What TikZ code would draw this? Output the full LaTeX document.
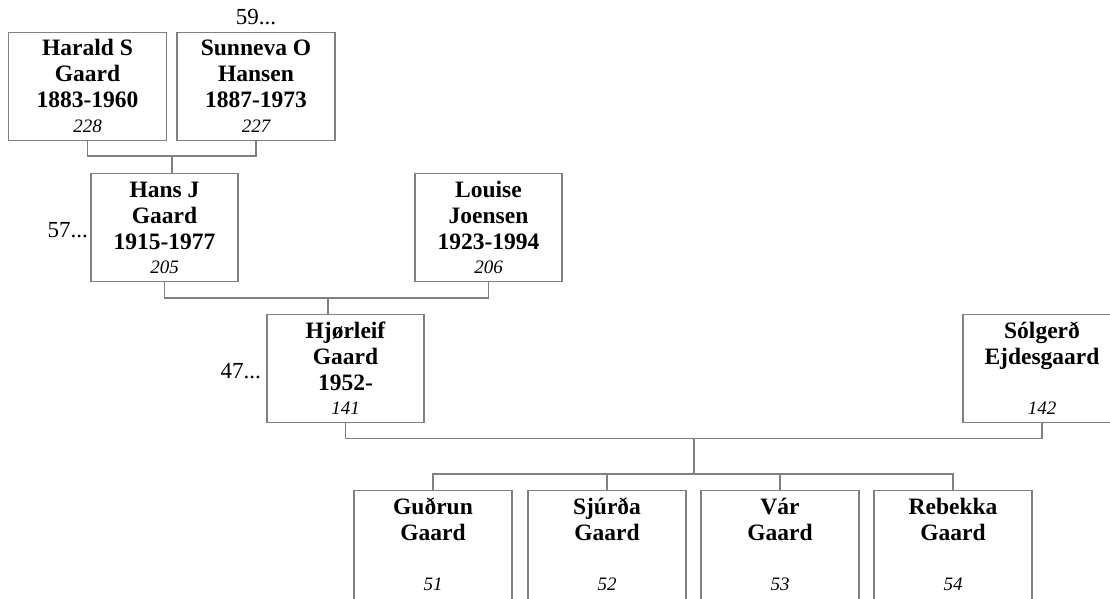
\documentclass[tikz,border=0pt]{standalone}
\usepackage{fontspec}
\setmainfont{Liberation Serif}
\definecolor{linegray}{RGB}{128,128,128}
\tikzset{
  pbox/.style={draw=linegray, line width=1.1pt, rectangle, inner sep=0pt, minimum height=108, fill=white, anchor=north},
  conn/.style={draw=linegray, line width=1.1pt},
  nameline/.style={anchor=base, inner sep=0pt, font=\fontsize{23.5}{26}\selectfont\bfseries},
  numline/.style={anchor=base, inner sep=0pt, font=\fontsize{19}{21}\selectfont\itshape},
  morelbl/.style={inner sep=0pt, font=\fontsize{23}{26}\selectfont}
}
% \person{id}{cx}{top}{width}{line1}{line2}{line3}{number}
\newcommand{\person}[8]{%
  \node[pbox, minimum width=#4] (#1) at (#2,#3) {};
  \node[nameline] (#1-a) at (#2,#3+24) {#5};
  \node[nameline] (#1-b) at (#2,#3+50) {#6};
  \node[nameline] (#1-c) at (#2,#3+76) {#7};
  \node[numline]  (#1-d) at (#2,#3+100) {#8};
}
\begin{document}
\begin{tikzpicture}[x=1pt,y=-1pt]
\useasboundingbox (0,0) rectangle (1110,599);
\clip (0,0) rectangle (1110,599);

% generation 1
\person{harald}{87.5}{32}{158}{Harald S}{Gaard}{1883-1960}{228}
\person{sunneva}{256}{32}{158}{Sunneva O}{Hansen}{1887-1973}{227}
% generation 2
\person{hans}{164.5}{173}{147}{Hans J}{Gaard}{1915-1977}{205}
\person{louise}{488.5}{173}{147}{Louise}{Joensen}{1923-1994}{206}
% generation 3
\person{hjorleif}{345.5}{314}{157}{Hjørleif}{Gaard}{1952-}{141}
\person{solgerd}{1042}{314}{158}{Sólgerð}{Ejdesgaard}{}{142}
% generation 4 (boxes run past the lower edge)
\begin{scope}[pbox/.append style={minimum height=130}]
\person{gudrun}{433}{490}{158}{Guðrun}{Gaard}{}{51}
\person{sjurda}{607}{490}{158}{Sjúrða}{Gaard}{}{52}
\person{var}{780}{490}{158}{Vár}{Gaard}{}{53}
\person{rebekka}{953}{490}{158}{Rebekka}{Gaard}{}{54}
\end{scope}

% more labels
\node[morelbl, anchor=base] (more59) at (256,25) {59...};
\node[morelbl, anchor=base east] (more57) at (88,237) {57...};
\node[morelbl, anchor=base east] (more47) at (261,378) {47...};

% connectors
\coordinate (m1) at (172,156);
\draw[conn] (harald.south) -- (harald.south |- m1) -- (sunneva.south |- m1) -- (sunneva.south);
\draw[conn] (m1) -- (m1 |- hans.north);

\coordinate (m2) at (328,298);
\draw[conn] (hans.south) -- (hans.south |- m2) -- (louise.south |- m2) -- (louise.south);
\draw[conn] (m2) -- (m2 |- hjorleif.north);

\coordinate (m3) at (694,438.5);
\coordinate (c3) at (694,474);
\draw[conn] (hjorleif.south) -- (hjorleif.south |- m3) -- (solgerd.south |- m3) -- (solgerd.south);
\draw[conn] (m3) -- (c3);
\draw[conn] (gudrun.north) -- (gudrun.north |- c3) -- (rebekka.north |- c3) -- (rebekka.north);
\draw[conn] (sjurda.north) -- (sjurda.north |- c3);
\draw[conn] (var.north) -- (var.north |- c3);
\end{tikzpicture}
\end{document}
